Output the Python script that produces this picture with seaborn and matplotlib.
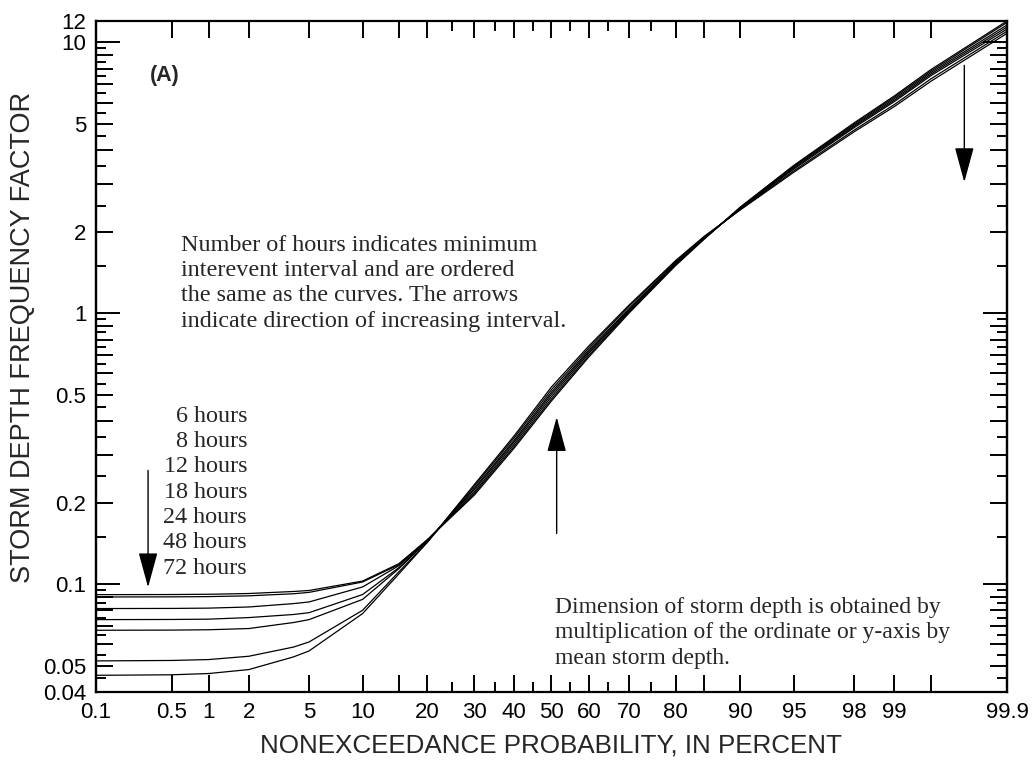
import numpy as np
import pandas as pd
import matplotlib
matplotlib.use("Agg")
import matplotlib.pyplot as plt
import seaborn as sns
from matplotlib.ticker import FixedLocator, FixedFormatter, NullFormatter, NullLocator
from statistics import NormalDist

# Nonexceedance probability (percent) at which each curve is tabulated
prob = [0.1, 0.5, 1, 2, 4, 5, 10, 15, 20, 30, 40, 50, 60, 70, 80, 85, 90, 95, 98, 99, 99.5, 99.9]

# Storm depth frequency factor for each minimum interevent interval
h6 = [0.0915, 0.0916, 0.0918, 0.0924, 0.0940, 0.0948, 0.1027, 0.119, 0.146, 0.213, 0.318, 0.475,
      0.690, 1.00, 1.50, 1.88, 2.47, 3.52, 5.05, 6.35, 7.95, 12.0]
h8 = [0.0897, 0.0898, 0.0900, 0.0906, 0.0922, 0.0933, 0.1019, 0.118, 0.146, 0.216, 0.323, 0.483,
      0.700, 1.01, 1.51, 1.885, 2.46, 3.50, 5.00, 6.28, 7.85, 11.85]
h12 = [0.0813, 0.0814, 0.0816, 0.0824, 0.0848, 0.0860, 0.0977, 0.117, 0.145, 0.219, 0.329, 0.493,
       0.712, 1.02, 1.52, 1.89, 2.45, 3.47, 4.95, 6.20, 7.75, 11.6]
h18 = [0.0740, 0.0741, 0.0743, 0.0753, 0.0773, 0.0785, 0.0916, 0.115, 0.145, 0.223, 0.335, 0.503,
       0.722, 1.03, 1.53, 1.90, 2.44, 3.44, 4.90, 6.12, 7.65, 11.4]
h24 = [0.0676, 0.0677, 0.0679, 0.0686, 0.0722, 0.0740, 0.0879, 0.114, 0.144, 0.226, 0.340, 0.512,
       0.732, 1.04, 1.54, 1.905, 2.43, 3.41, 4.85, 6.05, 7.55, 11.2]
h48 = [0.0521, 0.0523, 0.0527, 0.0542, 0.0586, 0.0612, 0.0801, 0.111, 0.143, 0.230, 0.347, 0.523,
       0.745, 1.06, 1.555, 1.915, 2.42, 3.36, 4.75, 5.90, 7.35, 11.0]
h72 = [0.0461, 0.0463, 0.0468, 0.0484, 0.0539, 0.0567, 0.0779, 0.109, 0.143, 0.233, 0.353, 0.535,
       0.758, 1.07, 1.565, 1.925, 2.41, 3.32, 4.68, 5.80, 7.20, 10.8]

interval_names = ["6 hours", "8 hours", "12 hours", "18 hours", "24 hours", "48 hours", "72 hours"]
series = [h6, h8, h12, h18, h24, h48, h72]

# Axis ticks
x_tick_vals = [0.1, 0.5, 1, 2, 5, 10, 15, 20, 30, 40, 50, 60, 70, 80, 85, 90, 95, 98, 99, 99.5, 99.9]
x_tick_text = ["0.1", "0.5", "1", "2", "5", "10", "", "20", "30", "40", "50", "60", "70", "80", "",
               "90", "95", "98", "99", "", "99.9"]
x_minor_vals = [25, 35, 45, 55, 65, 75]

y_decade_vals = [0.1, 1, 10]
y_decade_text = ["0.1", "1", "10"]
y_unit_vals = [0.04, 0.05, 0.06, 0.07, 0.08, 0.09, 0.2, 0.3, 0.4, 0.5, 0.6, 0.7, 0.8, 0.9,
               2, 3, 4, 5, 6, 7, 8, 9, 12]
y_unit_text = ["0.04", "0.05", "", "", "", "", "0.2", "", "", "0.5", "", "", "", "",
               "2", "", "", "5", "", "", "", "", "12"]
y_half_vals = [0.045, 0.055, 0.065, 0.075, 0.085, 0.095, 0.15, 0.25, 0.35, 0.45, 0.55, 0.65,
               0.75, 0.85, 0.95, 1.5, 2.5, 3.5, 4.5, 5.5, 6.5, 7.5, 8.5, 9.5]

df = pd.DataFrame({
    "prob": prob * len(series),
    "factor": [v for s in series for v in s],
    "interval": [n for n in interval_names for _ in prob],
})

sns.set_theme(style="ticks")
plt.rcParams["font.family"] = ["Liberation Sans", "DejaVu Sans"]

fig = plt.figure(figsize=(10.36, 7.61), dpi=100)
ax = fig.add_axes([96 / 1036, 69 / 761, 911 / 1036, 671 / 761])

sns.lineplot(data=df, x="prob", y="factor", hue="interval", units="interval", estimator=None,
             palette=["black"] * len(series), legend=False, linewidth=0.9, sort=False, ax=ax)

# Normal-probability x scale and logarithmic y scale
_nd = NormalDist()
_inv_cdf = np.vectorize(_nd.inv_cdf, otypes=[float])
_cdf = np.vectorize(_nd.cdf, otypes=[float])


def prob_forward(p):
    p = np.clip(np.asarray(p, dtype=float), 1e-5, 100 - 1e-5) / 100.0
    return _inv_cdf(p)


def prob_inverse(z):
    return _cdf(np.asarray(z, dtype=float)) * 100.0


ax.set_yscale("log")
ax.set_xscale("function", functions=(prob_forward, prob_inverse))
ax.set_xlim(0.1, 99.9)
ax.set_ylim(0.04, 12)

ax.xaxis.set_major_locator(FixedLocator(x_tick_vals))
ax.xaxis.set_major_formatter(FixedFormatter(x_tick_text))
ax.xaxis.set_minor_locator(FixedLocator(x_minor_vals))
ax.xaxis.set_minor_formatter(NullFormatter())

ax.yaxis.set_major_locator(FixedLocator(y_decade_vals))
ax.yaxis.set_major_formatter(FixedFormatter(y_decade_text))
ax.yaxis.set_minor_locator(FixedLocator(y_unit_vals))
ax.yaxis.set_minor_formatter(FixedFormatter(y_unit_text))

for s in ax.spines.values():
    s.set_linewidth(1.6)
    s.set_color("black")

ax.tick_params(axis="both", which="both", direction="in", top=True, right=True,
               width=1.4, colors="black", labelsize=16, pad=7)
ax.tick_params(axis="x", which="major", length=12)
ax.tick_params(axis="x", which="minor", length=7.5)
ax.tick_params(axis="y", which="major", length=17)
ax.tick_params(axis="y", which="minor", length=12)

# Half-unit ticks on both vertical axes
for side in ("left", "right"):
    sec = ax.secondary_yaxis(side)
    sec.yaxis.set_major_locator(FixedLocator(y_half_vals))
    sec.yaxis.set_major_formatter(NullFormatter())
    sec.yaxis.set_minor_locator(NullLocator())
    sec.tick_params(which="major", direction="in", length=7.5, width=1.4, colors="black")
    sec.spines[side].set_linewidth(1.6)

ax.set_xlabel("NONEXCEEDANCE PROBABILITY, IN PERCENT", fontsize=18.7, labelpad=8)
ax.set_ylabel("STORM DEPTH FREQUENCY FACTOR", fontsize=19.5)
ax.yaxis.set_label_coords(-0.066, 0.528)
ax.grid(False)

serif = ["Liberation Serif", "DejaVu Serif"]

ax.text(0.059, 0.9195, "(A)", transform=ax.transAxes, fontsize=15.5, fontweight="bold",
        ha="left", va="center")

ax.text(0.0933, 0.6095,
        "Number of hours indicates minimum\ninterevent interval and are ordered\n"
        "the same as the curves. The arrows\nindicate direction of increasing interval.",
        transform=ax.transAxes, family=serif, fontsize=17.4, ha="left", va="center",
        linespacing=1.27)

ax.text(0.1658, 0.298, "\n".join(interval_names), transform=ax.transAxes, family=serif,
        fontsize=17.4, ha="right", va="center", multialignment="right", linespacing=1.27)

ax.text(0.504, 0.088,
        "Dimension of storm depth is obtained by\nmultiplication of the ordinate or y-axis by\n"
        "mean storm depth.",
        transform=ax.transAxes, family=serif, fontsize=17, ha="left", va="center",
        linespacing=1.3)

# Arrows showing the direction of increasing interval
arrow_style = dict(arrowstyle="-|>,head_length=2.2,head_width=0.6", mutation_scale=10,
                   color="black", lw=1.0, shrinkA=0, shrinkB=0)
ax.annotate("", xy=(0.31, 0.0974), xytext=(0.31, 0.263), arrowprops=arrow_style)
ax.annotate("", xy=(51.4, 0.414), xytext=(51.4, 0.154), arrowprops=arrow_style)
ax.annotate("", xy=(99.745, 3.05), xytext=(99.745, 8.23), arrowprops=arrow_style)

fig.savefig("out.png", dpi=100, facecolor="white")
